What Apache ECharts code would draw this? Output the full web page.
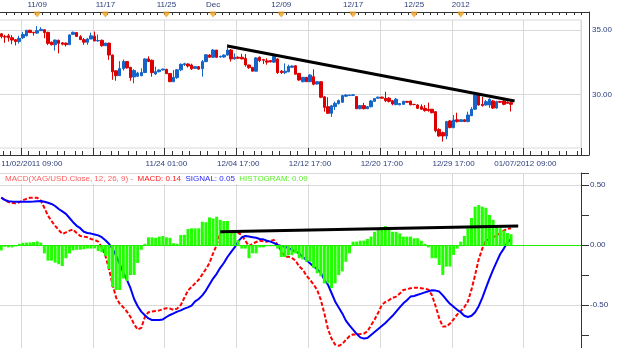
<!DOCTYPE html>
<html><head><meta charset="utf-8">
<script src="https://cdn.jsdelivr.net/npm/echarts@6/dist/echarts.min.js"></script>
<style>html,body{margin:0;padding:0;background:#fff}#c{width:625px;height:348px}</style>
</head><body><div id="c"></div>
<script>
// XAG/USD candles: [open, close, low, high]
const candles = [
[34.70,34.50,34.35,34.76],[34.50,34.45,34.00,34.62],[34.55,34.40,34.10,34.70],[34.40,34.22,33.90,34.60],
[34.25,34.10,33.80,34.30],[34.10,34.35,33.95,34.55],[34.40,34.65,34.30,34.85],[34.55,34.98,34.50,35.00],
[34.98,34.80,34.78,35.02],[34.82,34.78,34.56,34.86],[34.76,34.95,34.70,35.30],[34.95,35.05,34.92,35.22],
[35.02,34.80,34.36,35.05],[34.82,33.96,33.83,34.86],[34.05,33.85,33.80,34.10],[33.85,34.22,33.40,34.25],
[34.20,33.96,33.18,34.25],[34.00,33.90,33.80,34.06],[33.98,33.86,33.72,34.02],[33.86,34.62,33.84,34.66],
[34.66,34.82,34.64,34.88],[34.80,34.50,34.48,34.82],[34.48,34.25,34.22,34.60],[34.25,34.05,33.85,34.38],
[34.05,34.30,33.85,34.38],[34.30,34.55,34.28,34.80],[34.52,34.15,34.12,34.88],[34.15,34.18,34.10,34.65],
[34.20,33.78,33.70,34.26],[33.78,33.98,33.75,34.00],[33.98,33.05,32.68,34.00],[33.05,31.75,31.13,33.10],
[31.83,31.45,31.05,31.87],[31.45,32.00,31.45,32.58],[32.00,32.55,31.85,32.70],[32.55,32.05,32.00,32.58],
[32.10,31.30,31.05,32.12],[31.35,31.85,30.85,31.95],[31.40,31.65,31.35,31.75],[31.45,31.70,31.40,32.02],
[31.70,32.75,31.65,32.80],[32.75,32.55,32.50,32.95],[32.65,31.68,31.37,32.70],[31.58,31.76,31.50,32.15],
[31.76,31.89,31.70,31.93],[31.89,31.96,31.85,32.00],[31.94,31.60,31.58,31.98],[31.62,30.98,30.95,31.65],
[30.98,31.32,30.95,31.89],[31.30,31.91,31.20,31.95],[31.90,32.33,31.80,32.40],[32.30,32.38,32.20,32.45],
[32.36,32.20,32.08,32.40],[32.28,31.98,31.89,32.38],[32.02,32.15,31.98,32.18],[32.15,31.96,31.91,32.20],
[31.99,32.54,31.37,32.67],[32.54,33.07,32.50,33.13],[33.05,32.88,32.82,33.12],[32.88,33.44,32.82,33.52],
[33.44,32.88,32.82,33.44],[32.90,32.95,32.85,33.00],[32.90,33.05,32.85,33.10],[33.05,33.44,33.00,33.90],
[33.44,32.75,32.54,33.52],[32.75,32.88,32.70,33.18],[32.88,32.80,32.75,32.95],[32.88,32.75,32.72,33.15],
[32.80,32.28,32.15,33.13],[32.28,32.07,31.98,32.30],[32.10,31.80,31.78,32.12],[31.80,32.83,31.78,32.90],
[32.88,32.62,32.50,32.95],[32.70,32.65,32.36,32.75],[32.60,32.50,32.30,32.80],[32.62,32.52,32.48,32.65],
[32.50,32.93,32.45,32.98],[32.75,31.68,31.58,32.80],[31.80,31.68,31.58,31.89],[31.68,31.80,31.57,32.40],
[31.75,32.17,31.72,32.30],[32.10,32.20,32.05,32.25],[32.22,31.56,31.55,32.27],[31.63,31.11,31.05,31.66],
[30.98,31.32,30.93,31.35],[31.32,30.98,30.95,31.35],[30.98,31.50,30.95,31.55],[31.37,30.78,30.70,31.94],
[30.80,30.98,30.75,31.02],[30.98,29.77,29.70,31.02],[29.80,28.98,28.65,29.85],[29.04,28.52,28.47,29.77],
[28.52,29.10,28.24,29.18],[29.04,29.30,28.78,29.43],[29.28,29.51,29.20,29.59],[29.38,29.90,29.36,29.95],
[29.85,29.95,29.78,30.00],[29.90,29.95,29.88,29.98],[29.92,29.96,29.88,30.00],[29.82,28.88,28.84,29.87],
[28.88,29.12,28.84,29.15],[29.12,28.88,28.82,29.33],[28.88,29.04,28.85,29.08],[29.03,29.48,28.98,29.56],
[29.45,29.67,29.42,29.70],[29.70,29.78,29.66,29.82],[29.78,29.70,29.65,29.82],[29.69,29.50,29.40,30.20],
[29.70,29.45,29.36,29.78],[29.50,29.25,29.15,29.56],[29.20,29.62,29.15,29.72],[29.18,29.28,29.15,29.32],
[29.22,29.45,29.18,29.50],[29.45,29.38,29.35,29.48],[29.47,29.18,29.15,29.50],[29.22,29.20,29.15,29.25],
[29.17,28.91,28.85,29.22],[29.04,28.84,28.78,29.22],[28.91,28.73,28.65,29.17],[28.84,28.73,28.65,29.35],
[28.84,28.57,28.52,28.86],[28.65,27.17,27.04,28.67],[27.27,26.76,26.70,27.36],[27.02,26.76,26.32,27.10],
[26.76,27.88,26.50,27.93],[27.93,27.41,27.36,28.00],[27.41,28.00,27.36,28.39],[28.02,27.88,27.80,28.57],
[27.88,28.02,27.85,28.05],[28.02,27.88,27.85,28.05],[27.88,28.39,27.83,28.65],[28.34,28.84,28.30,29.00],
[28.84,29.95,28.78,30.03],[29.95,29.17,29.12,30.00],[29.22,29.12,29.05,29.80],[29.17,29.43,29.12,29.56],
[29.17,29.61,28.95,29.69],[29.48,28.93,28.86,29.56],[28.93,29.43,28.88,29.50],[29.45,29.38,29.33,29.48],
[29.48,29.22,29.15,29.56],[29.40,29.30,29.25,29.45],[29.35,29.22,28.66,29.43]
];
const macd = [
0.395,0.375,0.358,0.350,0.347,0.355,0.372,0.385,0.394,0.395,0.394,0.37,0.31,0.245,0.20,0.16,0.125,0.092,0.105,0.12,
0.128,0.10,0.075,0.07,0.064,0.05,0.042,0.028,-0.02,-0.09,-0.20,-0.33,-0.44,-0.49,-0.52,-0.555,-0.60,-0.66,-0.705,-0.69,
-0.60,-0.56,-0.555,-0.55,-0.545,-0.536,-0.526,-0.53,-0.54,-0.53,-0.50,-0.44,-0.38,-0.35,-0.32,-0.29,-0.245,-0.20,-0.15,-0.07,
0.0,0.10,0.111,0.111,0.105,0.103,0.103,0.08,0.035,-0.01,0.01,0.025,0.036,0.032,0.028,0.035,0.042,0.0,-0.05,-0.097,
-0.097,-0.11,-0.13,-0.18,-0.205,-0.255,-0.29,-0.33,-0.375,-0.455,-0.57,-0.70,-0.78,-0.83,-0.84,-0.825,-0.79,-0.76,-0.745,-0.745,
-0.742,-0.738,-0.72,-0.67,-0.62,-0.565,-0.50,-0.475,-0.46,-0.44,-0.43,-0.405,-0.375,-0.368,-0.361,-0.357,-0.356,-0.36,-0.365,-0.372,
-0.42,-0.51,-0.61,-0.68,-0.68,-0.655,-0.62,-0.58,-0.55,-0.518,-0.47,-0.37,-0.25,-0.12,-0.03,0.035,0.05,0.064,0.08,0.10,
0.12,0.135,0.14
];
const signal = [
0.395,0.375,0.365,0.362,0.361,0.361,0.361,0.361,0.361,0.362,0.364,0.366,0.36,0.352,0.342,0.325,0.30,0.28,0.26,0.225,
0.19,0.16,0.14,0.11,0.10,0.095,0.088,0.08,0.065,0.04,0.01,-0.03,-0.09,-0.16,-0.23,-0.29,-0.36,-0.45,-0.51,-0.555,
-0.585,-0.612,-0.625,-0.625,-0.625,-0.62,-0.60,-0.583,-0.57,-0.555,-0.545,-0.53,-0.52,-0.505,-0.47,-0.45,-0.42,-0.38,-0.33,-0.28,
-0.24,-0.19,-0.15,-0.10,-0.06,-0.02,0.03,0.064,0.075,0.07,0.065,0.06,0.05,0.047,0.035,0.028,0.015,0.0,-0.008,-0.015,
-0.025,-0.04,-0.055,-0.07,-0.10,-0.125,-0.153,-0.18,-0.20,-0.23,-0.29,-0.33,-0.40,-0.47,-0.52,-0.57,-0.63,-0.67,-0.705,-0.74,
-0.77,-0.78,-0.775,-0.75,-0.725,-0.70,-0.675,-0.65,-0.62,-0.59,-0.555,-0.52,-0.486,-0.46,-0.43,-0.425,-0.415,-0.405,-0.395,-0.385,
-0.377,-0.38,-0.388,-0.42,-0.456,-0.49,-0.515,-0.54,-0.56,-0.59,-0.60,-0.59,-0.56,-0.51,-0.44,-0.36,-0.28,-0.208,-0.14,-0.075,
-0.03,0.02,0.05
];
const histogram = [
-0.045,-0.015,-0.02,-0.02,-0.012,0.01,0.018,0.02,0.022,0.025,0.03,0.02,-0.07,-0.13,-0.13,-0.147,-0.16,-0.175,-0.11,-0.07,
-0.045,-0.04,-0.04,-0.035,-0.03,-0.03,-0.028,-0.05,-0.06,-0.09,-0.20,-0.35,-0.375,-0.375,-0.28,-0.30,-0.25,-0.25,-0.15,-0.04,
0.01,0.064,0.064,0.06,0.07,0.075,0.064,0.06,0.015,0.01,0.083,0.085,0.133,0.139,0.139,0.139,0.194,0.19,0.23,0.22,
0.236,0.21,0.2,0.2,0.11,0.1,0.04,-0.03,-0.03,-0.11,-0.07,-0.07,-0.02,-0.02,-0.01,-0.01,-0.01,-0.03,-0.1,-0.1,
-0.085,-0.085,-0.07,-0.11,-0.12,-0.14,-0.14,-0.19,-0.236,-0.26,-0.32,-0.32,-0.36,-0.32,-0.25,-0.22,-0.14,-0.07,0.028,0.028,
0.036,0.036,0.05,0.07,0.11,0.13,0.15,0.158,0.14,0.11,0.11,0.097,0.07,0.07,0.07,0.056,0.056,0.036,0.01,-0.02,
-0.11,-0.11,-0.167,-0.25,-0.18,-0.18,-0.083,-0.03,0.028,0.075,0.139,0.225,0.32,0.333,0.32,0.31,0.25,0.21,0.15,0.14,
0.12,0.10,0.09
];
const slotCount = 162;
const topTickIdx = [10, 29, 46, 59, 78, 98, 115, 128];
const topTickLabels = ['11/09', '11/17', '11/25', 'Dec', '12/09', '12/17', '12/25', '2012'];
const bottomLabelIdx = [0, 46, 66, 86, 106, 126, 146];
const bottomLabels = ['11/02/2011 09:00', '11/24 01:00', '12/04 17:00', '12/12 17:00', '12/20 17:00', '12/29 17:00', '01/07/2012 09:00'];
const gridStep = 20, firstGridSlot = 6;
const priceTrend = [[63, 33.76], [143, 29.48]];
const macdTrend = [[61, 0.111], [144, 0.158]];
const lastPrice = 29.22;
const lastMacd = 0.14, lastSignal = 0.05, lastHist = 0.09;

const FONT = 'Liberation Sans, Arial, sans-serif';
const NAVY = '#2b3d7b';
const GRIDC = '#d9d9d9';
const AXC = '#333333';
const UP = '#1764c8', DOWN = '#dc0000';
const PL = -0.5, PW = 581.5;                 // plot area left / width
const band = PW / slotCount;
const cats = Array.from({length: slotCount}, (_, i) => String(i));
const bottomCats = cats.map((c, i) => i === 0 ? {value: c, textStyle: {align: 'left'}} : c);
const mod20 = i => ((i - firstGridSlot) % gridStep + gridStep) % gridStep;
const minorSet = [2, 5, 7, 10, 12, 15, 17];
const lbl = {fontSize: 8, fontFamily: FONT, color: NAVY};
const hidden = {axisLine: {show: false}, axisTick: {show: false}, axisLabel: {show: false}, splitLine: {show: false}};
const vgLeft = PL + firstGridSlot * band, vgSpan = slotCount - firstGridSlot;
const G = o => Object.assign({outerBoundsMode: 'none', containLabel: false}, o);

const chart = echarts.init(document.getElementById('c'));
chart.setOption({
  animation: false,
  title: {
    text: '{a|MACD(XAG/USD.Close, 12, 26, 9) -  }{b|MACD: ' + lastMacd.toFixed(2) + '  }{c|SIGNAL: ' + lastSignal.toFixed(2) + '  }{d|HISTOGRAM: ' + lastHist.toFixed(2) + '}',
    left: 3, top: 174, padding: [0, 3, 0, 2], backgroundColor: '#ffffff',
    textStyle: {fontSize: 8, fontFamily: FONT, fontWeight: 'normal', lineHeight: 10,
      rich: {
        a: {color: '#ff5c5c', fontSize: 8, fontFamily: FONT, lineHeight: 10},
        b: {color: '#ff1a1a', fontSize: 8, fontFamily: FONT, lineHeight: 10},
        c: {color: '#2a2aff', fontSize: 8, fontFamily: FONT, lineHeight: 10},
        d: {color: '#5cf02a', fontSize: 8, fontFamily: FONT, lineHeight: 10}
      }}
  },
  grid: [
    G({left: 0, top: 12, width: 589, height: 143}),                      // 0 frame
    G({left: 0, top: 30, width: 589, height: 96.45}),                    // 1 price ticks
    G({left: PL, top: 30, width: PW, height: 64.3}),                     // 2 price gridlines
    G({left: PL, top: 20, width: PW, height: 128, show: true, borderColor: GRIDC, borderWidth: 1, backgroundColor: 'transparent'}), // 3 candles
    G({left: PL, top: 12, width: PW, height: 5}),                        // 4 markers
    G({left: PL, top: 173, width: PW, height: 192}),                     // 5 macd
    G({left: vgLeft, top: 20, width: vgSpan * band, height: 128}),       // 6 vertical gridlines top
    G({left: vgLeft, top: 173, width: vgSpan * band, height: 192})       // 7 vertical gridlines macd
  ],
  xAxis: [
    {gridIndex: 0, type: 'value', min: 0, max: 1, position: 'top', ...hidden, axisLine: {show: true, onZero: false, lineStyle: {color: AXC}}},
    {gridIndex: 0, type: 'value', min: 0, max: 1, position: 'bottom', ...hidden, axisLine: {show: true, onZero: false, lineStyle: {color: AXC}}},
    {gridIndex: 1, type: 'value', min: 0, max: 1, ...hidden},
    {gridIndex: 2, type: 'value', min: 0, max: 1, ...hidden},
    {gridIndex: 3, type: 'category', data: cats, boundaryGap: true, ...hidden},
    {gridIndex: 3, type: 'category', data: cats, position: 'top', offset: 8, ...hidden,
      axisTick: {show: true, inside: true, length: 3, interval: i => i % 2 === 0, lineStyle: {color: AXC}},
      axisLabel: {show: true, ...lbl, margin: 3, interval: i => topTickIdx.includes(i),
        formatter: (v, i) => { const k = topTickIdx.indexOf(i); return k >= 0 ? topTickLabels[k] : ''; }}},
    {gridIndex: 3, type: 'category', data: bottomCats, position: 'bottom', offset: 7, ...hidden,
      axisTick: {show: true, inside: true, length: 7, interval: i => mod20(i) === 0, lineStyle: {color: AXC}},
      axisLabel: {show: true, ...lbl, margin: 5, interval: i => bottomLabelIdx.includes(i),
        formatter: (v, i) => { const k = bottomLabelIdx.indexOf(i); return k >= 0 ? bottomLabels[k] : ''; }}},
    {gridIndex: 3, type: 'category', data: cats, position: 'bottom', offset: 7, ...hidden,
      axisTick: {show: true, inside: true, length: 4, interval: i => minorSet.includes(mod20(i)), lineStyle: {color: AXC}}},
    {gridIndex: 4, type: 'category', data: cats, ...hidden},
    {gridIndex: 5, type: 'category', data: cats, ...hidden},
    {gridIndex: 6, type: 'value', min: 0, max: vgSpan, interval: gridStep, ...hidden, splitLine: {show: true, lineStyle: {color: GRIDC}}},
    {gridIndex: 7, type: 'value', min: 0, max: vgSpan, interval: gridStep, ...hidden, splitLine: {show: true, lineStyle: {color: GRIDC}}}
  ],
  yAxis: [
    {gridIndex: 0, type: 'value', min: 0, max: 1, position: 'right', ...hidden, axisLine: {show: true, onZero: false, lineStyle: {color: AXC}}},
    {gridIndex: 1, type: 'value', min: 27.5, max: 35, interval: 2.5, position: 'right', ...hidden,
      axisTick: {show: true, inside: true, length: 8, lineStyle: {color: AXC}},
      axisLabel: {show: true, ...lbl, margin: 3, formatter: v => (Math.abs(v % 5) < 1e-9 ? v.toFixed(2) : '')}},
    {gridIndex: 2, type: 'value', min: 30, max: 35, interval: 5, ...hidden,
      splitLine: {show: true, lineStyle: {color: GRIDC}}},
    {gridIndex: 3, type: 'value', min: 25.8243, max: 35.7776, ...hidden},
    {gridIndex: 4, type: 'value', min: 0, max: 1, ...hidden},
    {gridIndex: 5, type: 'value', min: -1, max: 0.6, interval: 0.25, position: 'right', ...hidden,
      axisLine: {show: true, onZero: false, lineStyle: {color: AXC}},
      axisTick: {show: true, length: 8, lineStyle: {color: AXC}},
      axisLabel: {show: true, ...lbl, margin: 9,
        formatter: v => (Math.abs(v * 2 - Math.round(v * 2)) < 1e-9 && v <= 0.5 ? v.toFixed(2) : '')}},
    {gridIndex: 5, type: 'value', min: -1, max: 0.6, interval: 0.5, position: 'left', ...hidden,
      splitLine: {show: true, lineStyle: {color: GRIDC}}},
    {gridIndex: 6, type: 'value', min: 0, max: 1, ...hidden},
    {gridIndex: 7, type: 'value', min: 0, max: 1, ...hidden}
  ],
  series: [
    {type: 'candlestick', xAxisIndex: 4, yAxisIndex: 3, data: candles, barWidth: 3,
      itemStyle: {color: UP, color0: DOWN, borderColor: UP, borderColor0: DOWN, borderWidth: 1},
      markLine: {silent: true, symbol: 'none', animation: false,
        data: [{yAxis: lastPrice, lineStyle: {opacity: 0},
          label: {show: true, position: 'end', distance: 9, formatter: () => lastPrice.toFixed(2),
            backgroundColor: '#62c6f2', color: '#101c3c', padding: [2, 2, 1, 2], fontSize: 8, fontFamily: FONT}}]}},
    {type: 'line', xAxisIndex: 4, yAxisIndex: 3, data: priceTrend, symbol: 'none', z: 5,
      lineStyle: {color: '#000', width: 3}},
    {type: 'scatter', xAxisIndex: 8, yAxisIndex: 4, data: topTickIdx.map(i => [i, 0.5]),
      symbol: 'path://M0,0L8,0L8,3L4,8L0,3Z', symbolSize: [6, 6], itemStyle: {color: '#f0a020'}},
    {type: 'line', name: 'MACD', xAxisIndex: 9, yAxisIndex: 5, data: macd, symbol: 'none', z: 2,
      lineStyle: {color: '#ff0000', width: 2, type: [4, 2]}},
    {type: 'line', name: 'SIGNAL', xAxisIndex: 9, yAxisIndex: 5, data: signal, symbol: 'none', z: 2,
      lineStyle: {color: '#0000ff', width: 2}},
    {type: 'bar', name: 'HISTOGRAM', xAxisIndex: 9, yAxisIndex: 5, data: histogram, barWidth: 3, z: 3,
      itemStyle: {color: '#22ff00'},
      markLine: {silent: true, symbol: 'none', animation: false, label: {show: false},
        lineStyle: {color: '#22ee00', width: 1, type: 'solid'}, data: [{yAxis: 0}]}},
    {type: 'line', xAxisIndex: 9, yAxisIndex: 5, data: macdTrend, symbol: 'none', z: 5,
      lineStyle: {color: '#000', width: 3}}
  ]
});
</script></body></html>
